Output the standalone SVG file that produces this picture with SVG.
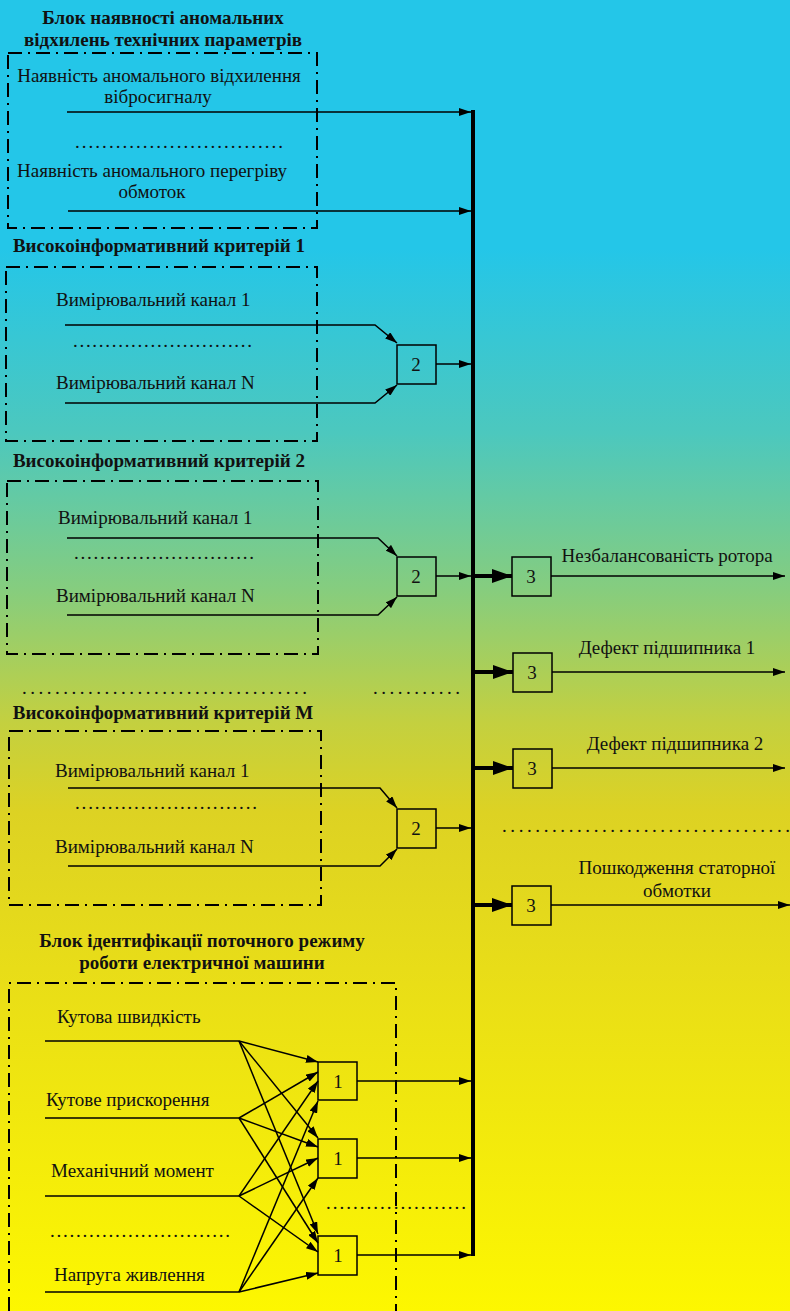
<svg xmlns="http://www.w3.org/2000/svg" width="790" height="1311" viewBox="0 0 790 1311">
<defs>
<linearGradient id="bg" x1="0" y1="0" x2="0" y2="1">
<stop offset="0" stop-color="#24C6E8"/>
<stop offset="0.19" stop-color="#24C6E8"/>
<stop offset="0.33" stop-color="#4CC8BE"/>
<stop offset="0.45" stop-color="#86CD7E"/>
<stop offset="0.55" stop-color="#C3D040"/>
<stop offset="0.62" stop-color="#DDD223"/>
<stop offset="0.75" stop-color="#E9DE17"/>
<stop offset="1" stop-color="#FDF700"/>
</linearGradient>
<marker id="a" markerUnits="userSpaceOnUse" markerWidth="12" markerHeight="8" refX="12" refY="4" orient="auto"><path d="M0,0 L12,4 L0,8 z" fill="#000"/></marker>
<marker id="b" markerUnits="userSpaceOnUse" markerWidth="20" markerHeight="14" refX="20" refY="7" orient="auto"><path d="M0,0 L20,7 L0,14 z" fill="#000"/></marker>
<style>
text{font-family:"Liberation Serif","Times New Roman",serif;font-size:19px;fill:#111}
.t{font-weight:bold}
.m{text-anchor:middle}
.frame{fill:none;stroke:#000;stroke-width:2;stroke-dasharray:14 6 2 6}
.ln{fill:none;stroke:#000;stroke-width:1.5}
.ar{fill:none;stroke:#000;stroke-width:1.5;marker-end:url(#a)}
.th{fill:none;stroke:#000;stroke-width:4;marker-end:url(#b)}
.box{fill:none;stroke:#000;stroke-width:1.5}
</style>
</defs>
<rect x="0" y="0" width="790" height="1311" fill="url(#bg)"/>

<g id="block-anomaly">
<text class="t m" x="163" y="24">Блок наявності аномальних</text>
<text class="t m" x="163" y="46">відхилень технічних параметрів</text>
<rect class="frame" x="8" y="53" width="309" height="175"/>
<text class="m" x="159" y="82">Наявність аномального відхилення</text>
<text class="m" x="158" y="103">вібросигналу</text>
<text x="75" y="148" textLength="208" lengthAdjust="spacing">...............................</text>
<text class="m" x="152" y="177">Наявність аномального перегріву</text>
<text class="m" x="152" y="198">обмоток</text>
</g>

<g id="criterion-1">
<text class="t m" x="159" y="252">Високоінформативний критерій 1</text>
<rect class="frame" x="6" y="267" width="311" height="174"/>
<text x="56" y="306">Вимірювальний канал 1</text>
<text x="73" y="347" textLength="179" lengthAdjust="spacing">............................</text>
<text x="56" y="389">Вимірювальний канал N</text>
<rect class="box" x="397" y="345" width="39" height="39"/>
<text class="m" x="416" y="371">2</text>
</g>

<g id="criterion-2">
<text class="t m" x="159" y="467">Високоінформативний критерій 2</text>
<rect class="frame" x="7" y="481" width="311" height="173"/>
<text x="58" y="524">Вимірювальний канал 1</text>
<text x="74" y="559" textLength="180" lengthAdjust="spacing">............................</text>
<text x="56" y="602">Вимірювальний канал N</text>
<rect class="box" x="397" y="557" width="39" height="39"/>
<text class="m" x="416" y="583">2</text>
</g>

<g id="ellipsis-row">
<text x="22" y="694" textLength="285" lengthAdjust="spacing">...................................</text>
<text x="373" y="694" textLength="87" lengthAdjust="spacing">...........</text>
</g>

<g id="criterion-M">
<text class="t m" x="163" y="719">Високоінформативний критерій M</text>
<rect class="frame" x="9" y="731" width="312" height="174"/>
<text x="55" y="777">Вимірювальний канал 1</text>
<text x="75" y="809" textLength="182" lengthAdjust="spacing">............................</text>
<text x="55" y="853">Вимірювальний канал N</text>
<rect class="box" x="397" y="809" width="39" height="39"/>
<text class="m" x="416" y="835">2</text>
</g>

<g id="block-mode">
<text class="t m" x="202" y="947">Блок ідентифікації поточного режиму</text>
<text class="t m" x="202" y="969">роботи електричної машини</text>
<path class="frame" d="M9,1311 V983 H396 V1311"/>
<text x="57" y="1023">Кутова швидкість</text>
<text x="46" y="1106">Кутове прискорення</text>
<text x="51" y="1177">Механічний момент</text>
<text x="50" y="1237" textLength="180" lengthAdjust="spacing">............................</text>
<text x="54" y="1281">Напруга живлення</text>
<rect class="box" x="318" y="1062" width="39" height="38"/>
<text class="m" x="338" y="1088">1</text>
<rect class="box" x="318" y="1139" width="39" height="39"/>
<text class="m" x="338" y="1165">1</text>
<rect class="box" x="318" y="1236" width="39" height="39"/>
<text class="m" x="338" y="1262">1</text>
<text x="326" y="1209" textLength="140" lengthAdjust="spacing">.....................</text>
</g>

<g id="outputs">
<rect class="box" x="512" y="557" width="39" height="39"/>
<text class="m" x="531" y="583">3</text>
<text class="m" x="667" y="562">Незбалансованість ротора</text>
<rect class="box" x="513" y="653" width="39" height="39"/>
<text class="m" x="532" y="679">3</text>
<text class="m" x="667" y="654">Дефект підшипника 1</text>
<rect class="box" x="513" y="749" width="39" height="39"/>
<text class="m" x="675" y="750">Дефект підшипника 2</text>
<text class="m" x="532" y="775">3</text>
<text x="502" y="832" textLength="288" lengthAdjust="spacing">...................................</text>
<rect class="box" x="512" y="886" width="39" height="39"/>
<text class="m" x="531" y="912">3</text>
<text class="m" x="677" y="874">Пошкодження статорної</text>
<text class="m" x="677" y="897">обмотки</text>
</g>

<g id="connectors">
<line x1="473" y1="110" x2="473" y2="1256" stroke="#000" stroke-width="4"/>
<line class="ar" x1="67" y1="112" x2="471" y2="112"/>
<line class="ar" x1="68" y1="211" x2="471" y2="211"/>
<polyline class="ar" points="65,325 375,325 397,343"/>
<polyline class="ar" points="65,403 375,403 397,385"/>
<line class="ar" x1="436" y1="364" x2="471" y2="364"/>
<polyline class="ar" points="67,538 378,538 397,556"/>
<polyline class="ar" points="67,615 378,615 397,597"/>
<line class="ar" x1="436" y1="576" x2="471" y2="576"/>
<polyline class="ar" points="68,788 380,788 397,808"/>
<polyline class="ar" points="68,866 380,866 397,849"/>
<line class="ar" x1="436" y1="828" x2="471" y2="828"/>
<line class="th" x1="473" y1="576" x2="512" y2="576"/>
<line class="th" x1="473" y1="672" x2="513" y2="672"/>
<line class="th" x1="473" y1="768" x2="513" y2="768"/>
<line class="th" x1="473" y1="905" x2="512" y2="905"/>
<line class="ar" x1="551" y1="576" x2="785" y2="576"/>
<line class="ar" x1="552" y1="672" x2="785" y2="672"/>
<line class="ar" x1="552" y1="768" x2="785" y2="768"/>
<line class="ar" x1="551" y1="905" x2="790" y2="905"/>
<line class="ln" x1="45" y1="1041" x2="239" y2="1041"/>
<line class="ln" x1="45" y1="1118" x2="239" y2="1118"/>
<line class="ln" x1="45" y1="1196" x2="239" y2="1196"/>
<line class="ln" x1="45" y1="1292" x2="239" y2="1292"/>
<line class="ar" x1="239" y1="1041" x2="318" y2="1062"/>
<line class="ar" x1="239" y1="1041" x2="318" y2="1138"/>
<line class="ar" x1="239" y1="1041" x2="318" y2="1234"/>
<line class="ar" x1="239" y1="1118" x2="318" y2="1072"/>
<line class="ar" x1="239" y1="1118" x2="318" y2="1147"/>
<line class="ar" x1="239" y1="1118" x2="318" y2="1243"/>
<line class="ar" x1="239" y1="1196" x2="318" y2="1081"/>
<line class="ar" x1="239" y1="1196" x2="318" y2="1158"/>
<line class="ar" x1="239" y1="1196" x2="318" y2="1252"/>
<line class="ar" x1="239" y1="1292" x2="318" y2="1101"/>
<line class="ar" x1="239" y1="1292" x2="318" y2="1178"/>
<line class="ar" x1="239" y1="1292" x2="318" y2="1273"/>
<line class="ar" x1="357" y1="1081" x2="471" y2="1081"/>
<line class="ar" x1="357" y1="1158" x2="471" y2="1158"/>
<line class="ar" x1="357" y1="1255" x2="471" y2="1255"/>
</g>
</svg>
